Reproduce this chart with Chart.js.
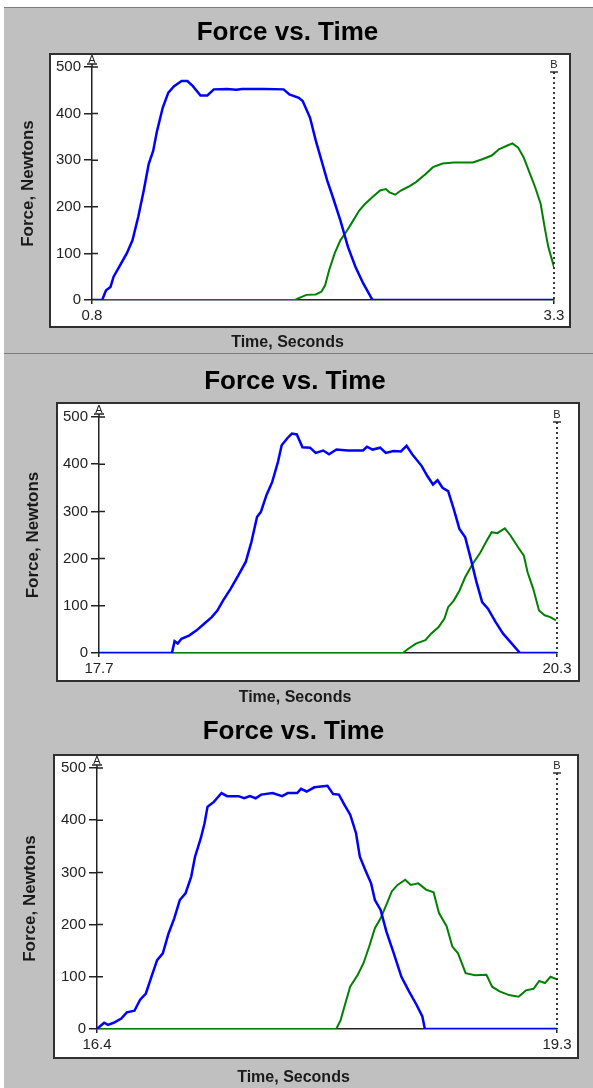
<!DOCTYPE html>
<html lang="en">
<head>
<meta charset="UTF-8">
<title>Force vs. Time</title>
<script src="https://cdn.jsdelivr.net/npm/chart.js"></script>
<style>
  body { margin: 0; width: 593px; height: 1088px; background: #fff; position: relative; overflow: hidden; }
  #bg { position: absolute; left: 4px; top: 7px; right: 0; bottom: 0; background: #c0c0c0; border-top: 1px solid #7c7c7c; }
  .sep { position: absolute; left: 4px; right: 0; height: 1px; background: #7c7c7c; }
  canvas { position: absolute; left: 0; }
</style>
</head>
<body>
<div id="bg"></div>
<div class="sep" style="top:353px"></div>
<canvas id="c1" width="593" height="345" style="top:8px"></canvas>
<canvas id="c2" width="593" height="355" style="top:355px"></canvas>
<canvas id="c3" width="593" height="378" style="top:710px"></canvas>

<script>
  // x ranges (seconds)
  const x1 = [0.8, 3.3];
  const x2 = [17.7, 20.3];
  const x3 = [16.4, 19.3];
  const yTicks = [0, 100, 200, 300, 400, 500];

  // trial 1
  const blue1T = [0.8, 0.855, 0.876, 0.9, 0.917, 0.947, 0.988, 1.019, 1.05, 1.08, 1.107, 1.131, 1.152, 1.183, 1.213, 1.244, 1.285, 1.316, 1.346, 1.387, 1.424, 1.459, 1.53, 1.581, 1.612, 1.735, 1.837, 1.868, 1.919, 1.94, 1.98, 2.011, 2.042, 2.073, 2.103, 2.144, 2.185, 2.226, 2.267, 2.318, 3.3];
  const blue1F = [0, 0, 21, 28, 50, 71, 100, 128, 178, 235, 292, 320, 363, 413, 445, 459, 470, 470, 459, 439, 439, 452, 453, 451, 453, 453, 452, 441, 434, 427, 391, 342, 299, 256, 221, 171, 114, 71, 36, 0, 0];
  const green1T = [0.8, 1.899, 1.919, 1.96, 2.011, 2.042, 2.062, 2.083, 2.113, 2.144, 2.175, 2.205, 2.246, 2.277, 2.318, 2.359, 2.39, 2.41, 2.441, 2.471, 2.512, 2.553, 2.604, 2.645, 2.697, 2.758, 2.861, 2.912, 2.963, 3.004, 3.045, 3.075, 3.106, 3.136, 3.167, 3.198, 3.228, 3.249, 3.269, 3.3];
  const green1F = [0, 0, 4, 11, 12, 18, 32, 64, 100, 128, 146, 165, 192, 206, 221, 235, 238, 231, 226, 235, 243, 253, 270, 285, 293, 295, 295, 302, 310, 324, 331, 336, 327, 306, 274, 242, 206, 157, 114, 71];

  // trial 2
  const blue2T = [17.7, 18.114, 18.129, 18.147, 18.168, 18.211, 18.254, 18.297, 18.34, 18.372, 18.404, 18.447, 18.49, 18.533, 18.565, 18.597, 18.619, 18.651, 18.683, 18.716, 18.737, 18.769, 18.795, 18.823, 18.855, 18.898, 18.93, 18.973, 19.006, 19.048, 19.113, 19.199, 19.221, 19.253, 19.296, 19.328, 19.371, 19.414, 19.446, 19.478, 19.532, 19.564, 19.596, 19.622, 19.65, 19.682, 19.714, 19.746, 19.779, 19.811, 19.843, 19.875, 19.908, 19.951, 19.994, 20.036, 20.09, 20.3];
  const blue2F = [0, 0, 25, 20, 30, 37, 48, 62, 76, 90, 111, 136, 164, 193, 235, 288, 299, 335, 362, 405, 440, 455, 465, 463, 436, 435, 424, 429, 421, 431, 429, 429, 437, 431, 435, 424, 428, 427, 439, 421, 396, 375, 357, 366, 350, 343, 305, 263, 245, 199, 150, 108, 94, 66, 41, 23, 0, 0];
  const green2T = [17.7, 19.424, 19.456, 19.499, 19.553, 19.585, 19.628, 19.661, 19.682, 19.714, 19.746, 19.779, 19.822, 19.865, 19.897, 19.929, 19.961, 20.004, 20.036, 20.079, 20.112, 20.133, 20.165, 20.198, 20.23, 20.262, 20.294];
  const green2F = [0, 0, 9, 20, 27, 41, 55, 73, 97, 111, 132, 161, 189, 213, 235, 256, 254, 264, 249, 224, 206, 171, 136, 90, 80, 76, 69];

  // trial 3
  const blue3T = [16.4, 16.414, 16.445, 16.469, 16.505, 16.553, 16.588, 16.636, 16.672, 16.708, 16.743, 16.779, 16.815, 16.851, 16.887, 16.922, 16.958, 16.994, 17.018, 17.054, 17.078, 17.097, 17.137, 17.185, 17.22, 17.292, 17.328, 17.364, 17.4, 17.435, 17.507, 17.567, 17.603, 17.662, 17.686, 17.722, 17.77, 17.853, 17.889, 17.925, 17.961, 17.997, 18.033, 18.057, 18.092, 18.128, 18.152, 18.188, 18.224, 18.271, 18.319, 18.367, 18.415, 18.451, 18.467, 19.3];
  const blue3F = [1, 4, 12, 8, 12, 20, 32, 35, 56, 68, 100, 132, 145, 183, 212, 247, 260, 292, 330, 365, 394, 426, 435, 452, 446, 446, 442, 446, 442, 449, 452, 446, 452, 452, 460, 455, 463, 466, 450, 449, 429, 410, 375, 330, 304, 279, 247, 228, 187, 145, 100, 72, 46, 24, 0, 0];
  const green3T = [16.4, 17.908, 17.936, 17.96, 17.996, 18.044, 18.08, 18.116, 18.152, 18.188, 18.224, 18.259, 18.295, 18.343, 18.378, 18.426, 18.474, 18.522, 18.556, 18.604, 18.64, 18.676, 18.724, 18.783, 18.855, 18.891, 18.938, 18.998, 19.058, 19.104, 19.152, 19.188, 19.224, 19.259, 19.3];
  const green3F = [0, 0, 17, 43, 81, 104, 126, 158, 193, 212, 238, 264, 276, 286, 276, 279, 267, 262, 222, 197, 158, 145, 107, 103, 104, 81, 72, 65, 62, 74, 77, 92, 88, 100, 95];

  const FONT = 'Arial, "Liberation Sans", sans-serif';
  Chart.defaults.font.family = FONT;

  // layout of each panel (canvas pixels)
  const panels = [
    { id: 'c1', x: x1, blue: [blue1T, blue1F], green: [green1T, green1F],
      pad: { left: 21, right: 39 }, titlePad: { top: 9.4, bottom: 18.4 }, subPad: { top: 4, bottom: 0.4 },
      yWidth: 71, yTitlePad: -3.2, xHeight: 29.4, frame: { l: 50, t: 46, r: 570, b: 319 } },
    { id: 'c2', x: x2, blue: [blue2T, blue2F], green: [green2T, green2F],
      pad: { left: 33, right: 36 }, titlePad: { top: 11.4, bottom: 19.4 }, subPad: { top: 4, bottom: 2.4 },
      yWidth: 66, yTitlePad: -10.2, xHeight: 31.4, frame: { l: 57, t: 48, r: 579, b: 326 } },
    { id: 'c3', x: x3, blue: [blue3T, blue3F], green: [green3T, green3F],
      pad: { left: 30, right: 36 }, titlePad: { top: 6.4, bottom: 20.4 }, subPad: { top: 4, bottom: 0.4 },
      yWidth: 67, yTitlePad: -10.2, xHeight: 35.4, frame: { l: 54, t: 45, r: 578, b: 348 } }
  ];

  // white framed box behind the plot, inner tick halves and the A / B cursors
  const panelDeco = {
    id: 'panelDeco',
    beforeDraw(chart, args, opts) {
      const c = chart.ctx, f = opts.frame;
      c.save();
      c.fillStyle = '#fff';
      c.fillRect(f.l, f.t, f.r - f.l, f.b - f.t);
      c.strokeStyle = '#303030';
      c.lineWidth = 2;
      c.strokeRect(f.l, f.t, f.r - f.l, f.b - f.t);
      c.restore();
    },
    afterDraw(chart) {
      const { ctx, chartArea: a, scales: { y } } = chart;
      ctx.save();
      ctx.strokeStyle = '#222';
      ctx.lineWidth = 1.5;
      ctx.beginPath();
      y.ticks.forEach(t => {
        if (t.value > 0) {
          const py = y.getPixelForValue(t.value);
          ctx.moveTo(a.left, py);
          ctx.lineTo(a.left + 6, py);
        }
      });
      ctx.moveTo(a.left, a.top);
      ctx.lineTo(a.left, a.top - 3);
      ctx.moveTo(a.left - 5, a.top - 3);
      ctx.lineTo(a.left + 5, a.top - 3);
      ctx.stroke();

      ctx.lineWidth = 1.4;
      ctx.beginPath();
      ctx.moveTo(a.right - 4, a.top + 5);
      ctx.lineTo(a.right + 4, a.top + 5);
      ctx.stroke();
      ctx.setLineDash([2, 3]);
      ctx.lineWidth = 1.8;
      ctx.beginPath();
      ctx.moveTo(a.right, a.top + 5);
      ctx.lineTo(a.right, a.bottom);
      ctx.stroke();
      ctx.setLineDash([]);

      ctx.fillStyle = '#222';
      ctx.font = '11px ' + FONT;
      ctx.textAlign = 'center';
      ctx.textBaseline = 'bottom';
      ctx.fillText('A', a.left, a.top - 2);
      ctx.fillText('B', a.right, a.top + 3);
      ctx.restore();
    }
  };

  const toPoints = (t, f) => t.map((v, i) => ({ x: v, y: f[i] }));

  panels.forEach(p => {
    new Chart(document.getElementById(p.id), {
      type: 'line',
      data: {
        datasets: [
          { label: 'Blue', data: toPoints(p.blue[0], p.blue[1]), borderColor: '#0000ff', borderWidth: 2.5, pointRadius: 0, tension: 0 },
          { label: 'Green', data: toPoints(p.green[0], p.green[1]), borderColor: '#008000', borderWidth: 2, pointRadius: 0, tension: 0 }
        ]
      },
      plugins: [panelDeco],
      options: {
        responsive: false,
        animation: false,
        layout: { padding: { left: p.pad.left, right: p.pad.right, top: 0, bottom: 0 } },
        plugins: {
          legend: { display: false },
          tooltip: { enabled: false },
          title: {
            display: true, text: 'Force vs. Time', color: '#000',
            font: { size: 26, weight: 'bold' }, padding: p.titlePad
          },
          subtitle: {
            display: true, position: 'bottom', text: 'Time, Seconds', color: '#1a1a1a',
            font: { size: 16, weight: 'bold' }, padding: p.subPad
          },
          panelDeco: { frame: p.frame }
        },
        scales: {
          x: {
            type: 'linear', min: p.x[0], max: p.x[1],
            afterBuildTicks: s => { s.ticks = p.x.map(v => ({ value: v })); },
            afterFit: s => { s.height = p.xHeight; },
            grid: { drawOnChartArea: false, tickLength: 4, color: '#222', lineWidth: 1.5 },
            border: { color: '#222', width: 1.5 },
            ticks: { maxRotation: 0, autoSkip: false, padding: 3, color: '#222', font: { size: 15 },
              callback: v => v.toFixed(1) }
          },
          y: {
            min: 0, max: 500,
            afterBuildTicks: s => { s.ticks = yTicks.map(v => ({ value: v })); },
            afterFit: s => { s.width = p.yWidth; },
            grid: { drawOnChartArea: false, tickLength: 8, color: '#222', lineWidth: 1.5 },
            border: { color: '#222', width: 1.5 },
            ticks: { padding: 3, color: '#222', font: { size: 15 } },
            title: {
              display: true, text: 'Force, Newtons', color: '#1a1a1a',
              font: { size: 17, weight: 'bold' }, padding: { top: p.yTitlePad, bottom: 0 }
            }
          }
        }
      }
    });
  });
</script>
</body>
</html>
